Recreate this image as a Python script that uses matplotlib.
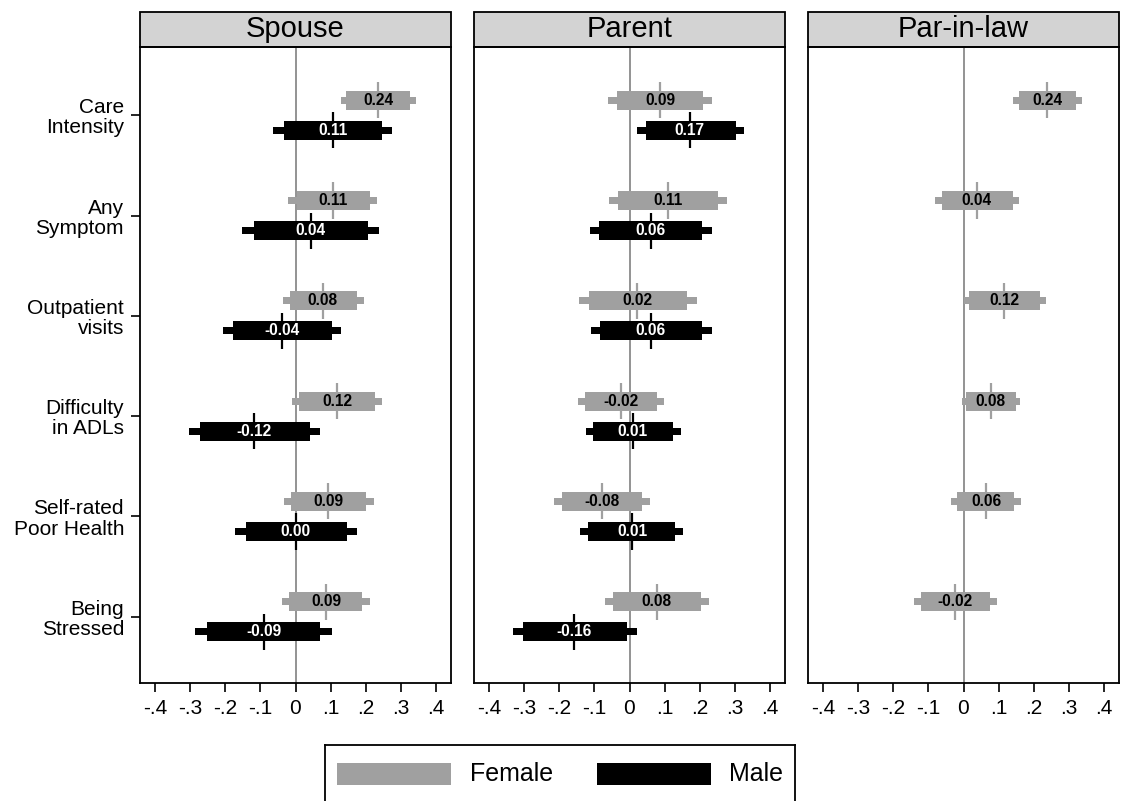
import numpy as np
import matplotlib
matplotlib.use('Agg')
import matplotlib.pyplot as plt
from matplotlib.patches import Rectangle

plt.rcParams['font.family'] = ['Liberation Sans', 'DejaVu Sans']

# outcomes (y categories)
outcomes = ['Care\nIntensity', 'Any\nSymptom', 'Outpatient\nvisits',
            'Difficulty\nin ADLs', 'Self-rated\nPoor Health', 'Being\nStressed']
panels = ['Spouse', 'Parent', 'Par-in-law']
xticks = [-0.4, -0.3, -0.2, -0.1, 0, 0.1, 0.2, 0.3, 0.4]
xticklabels = ['-.4', '-.3', '-.2', '-.1', '0', '.1', '.2', '.3', '.4']

# Spouse - female
sp_f_coef = [0.236, 0.108, 0.078, 0.119, 0.093, 0.087]
sp_f_lo1 = [0.145, 0.003, -0.017, 0.009, -0.014, -0.019]
sp_f_hi1 = [0.327, 0.213, 0.175, 0.227, 0.201, 0.190]
sp_f_lo2 = [0.131, -0.020, -0.036, -0.011, -0.034, -0.038]
sp_f_hi2 = [0.344, 0.233, 0.194, 0.247, 0.223, 0.211]

# Spouse - male
sp_m_coef = [0.108, 0.043, -0.038, -0.117, 0.001, -0.091]
sp_m_lo1 = [-0.034, -0.119, -0.179, -0.272, -0.142, -0.253]
sp_m_hi1 = [0.247, 0.207, 0.103, 0.040, 0.146, 0.071]
sp_m_lo2 = [-0.063, -0.151, -0.207, -0.302, -0.171, -0.285]
sp_m_hi2 = [0.276, 0.239, 0.130, 0.070, 0.175, 0.103]

# Parent - female
pa_f_coef = [0.087, 0.111, 0.022, -0.024, -0.079, 0.077]
pa_f_lo1 = [-0.037, -0.032, -0.115, -0.127, -0.193, -0.046]
pa_f_hi1 = [0.210, 0.253, 0.163, 0.079, 0.036, 0.203]
pa_f_lo2 = [-0.060, -0.058, -0.143, -0.148, -0.215, -0.070]
pa_f_hi2 = [0.236, 0.279, 0.191, 0.099, 0.058, 0.226]

# Parent - male
pa_m_coef = [0.172, 0.060, 0.061, 0.009, 0.007, -0.157]
pa_m_lo1 = [0.046, -0.086, -0.084, -0.103, -0.117, -0.304]
pa_m_hi1 = [0.303, 0.206, 0.207, 0.123, 0.130, -0.008]
pa_m_lo2 = [0.021, -0.113, -0.111, -0.125, -0.141, -0.331]
pa_m_hi2 = [0.327, 0.234, 0.236, 0.146, 0.153, 0.021]

# Parent-in-law - female only
pl_f_coef = [0.238, 0.038, 0.116, 0.078, 0.064, -0.024]
pl_f_lo1 = [0.157, -0.062, 0.017, 0.007, -0.019, -0.121]
pl_f_hi1 = [0.321, 0.140, 0.217, 0.149, 0.145, 0.076]
pl_f_lo2 = [0.142, -0.081, 0.000, -0.005, -0.036, -0.140]
pl_f_hi2 = [0.337, 0.159, 0.236, 0.162, 0.164, 0.095]

GRAY = '#a0a0a0'
BLACK = '#000000'

series = {
    'Spouse': [(sp_f_coef, sp_f_lo1, sp_f_hi1, sp_f_lo2, sp_f_hi2, GRAY, 'black', -0.15),
               (sp_m_coef, sp_m_lo1, sp_m_hi1, sp_m_lo2, sp_m_hi2, BLACK, 'white', 0.15)],
    'Parent': [(pa_f_coef, pa_f_lo1, pa_f_hi1, pa_f_lo2, pa_f_hi2, GRAY, 'black', -0.15),
               (pa_m_coef, pa_m_lo1, pa_m_hi1, pa_m_lo2, pa_m_hi2, BLACK, 'white', 0.15)],
    'Par-in-law': [(pl_f_coef, pl_f_lo1, pl_f_hi1, pl_f_lo2, pl_f_hi2, GRAY, 'black', -0.15)],
}

fig = plt.figure(figsize=(11.21, 8.01), dpi=100)
W, H = 1121, 801
lefts = [140, 474, 808]
top_px, bot_px = 47, 683
ypos = np.arange(len(outcomes))

for i, name in enumerate(panels):
    ax = fig.add_axes([lefts[i] / W, 1 - bot_px / H, 311 / W, (bot_px - top_px) / H])
    ax.axvline(0, color='#808080', lw=1.2, zorder=1)
    for coef, lo1, hi1, lo2, hi2, col, tcol, off in series[name]:
        y = ypos + off
        coef = np.array(coef)
        ax.vlines(coef, y - 0.18, y + 0.18, color=col, lw=1.6, zorder=2)
        ax.barh(y, np.array(hi2) - np.array(lo2), left=lo2, height=0.07,
                color=col, zorder=3)
        ax.barh(y, np.array(hi1) - np.array(lo1), left=lo1, height=0.19,
                color=col, zorder=4)
        for c, yy in zip(coef, y):
            ax.text(c, yy, f'{c:.2f}', ha='center', va='center', color=tcol,
                    fontsize=11.2, fontweight='bold', zorder=5)
    ax.set_xlim(-0.443, 0.443)
    ax.set_ylim(5.66, -0.68)
    ax.set_xticks(xticks)
    ax.set_xticklabels(xticklabels, fontsize=15)
    ax.tick_params(axis='x', direction='out', length=6.5, width=1.2, pad=5)
    if i == 0:
        ax.set_yticks(ypos)
        ax.set_yticklabels(outcomes, fontsize=15)
        for lab in ax.get_yticklabels():
            lab.set_linespacing(1.08)
        ax.tick_params(axis='y', direction='out', length=6.5, width=1.2, pad=5)
    else:
        ax.set_yticks([])
    for sp in ax.spines.values():
        sp.set_linewidth(1.3)
        sp.set_color('black')
    # header strip
    hh = 35 / (bot_px - top_px)
    ax.add_patch(Rectangle((0, 1), 1, hh, transform=ax.transAxes, clip_on=False,
                           facecolor='#d3d3d3', edgecolor='black', lw=1.3))
    ax.text(0.5, 1 + hh / 2, name, transform=ax.transAxes, ha='center',
            va='center', fontsize=21)

# legend
lax = fig.add_axes([325 / W, 1 - 815 / H, 470 / W, 70 / H])
lax.set_xlim(0, 470)
lax.set_ylim(70, 0)
lax.set_xticks([])
lax.set_yticks([])
for sp in lax.spines.values():
    sp.set_linewidth(1.3)
lax.add_patch(Rectangle((12, 18), 114, 22, facecolor=GRAY, edgecolor='none'))
lax.text(145, 29, 'Female', fontsize=18, va='center', ha='left')
lax.add_patch(Rectangle((272, 18), 114, 22, facecolor=BLACK, edgecolor='none'))
lax.text(404, 29, 'Male', fontsize=18, va='center', ha='left')

fig.savefig('out.png', dpi=100, facecolor='white')
